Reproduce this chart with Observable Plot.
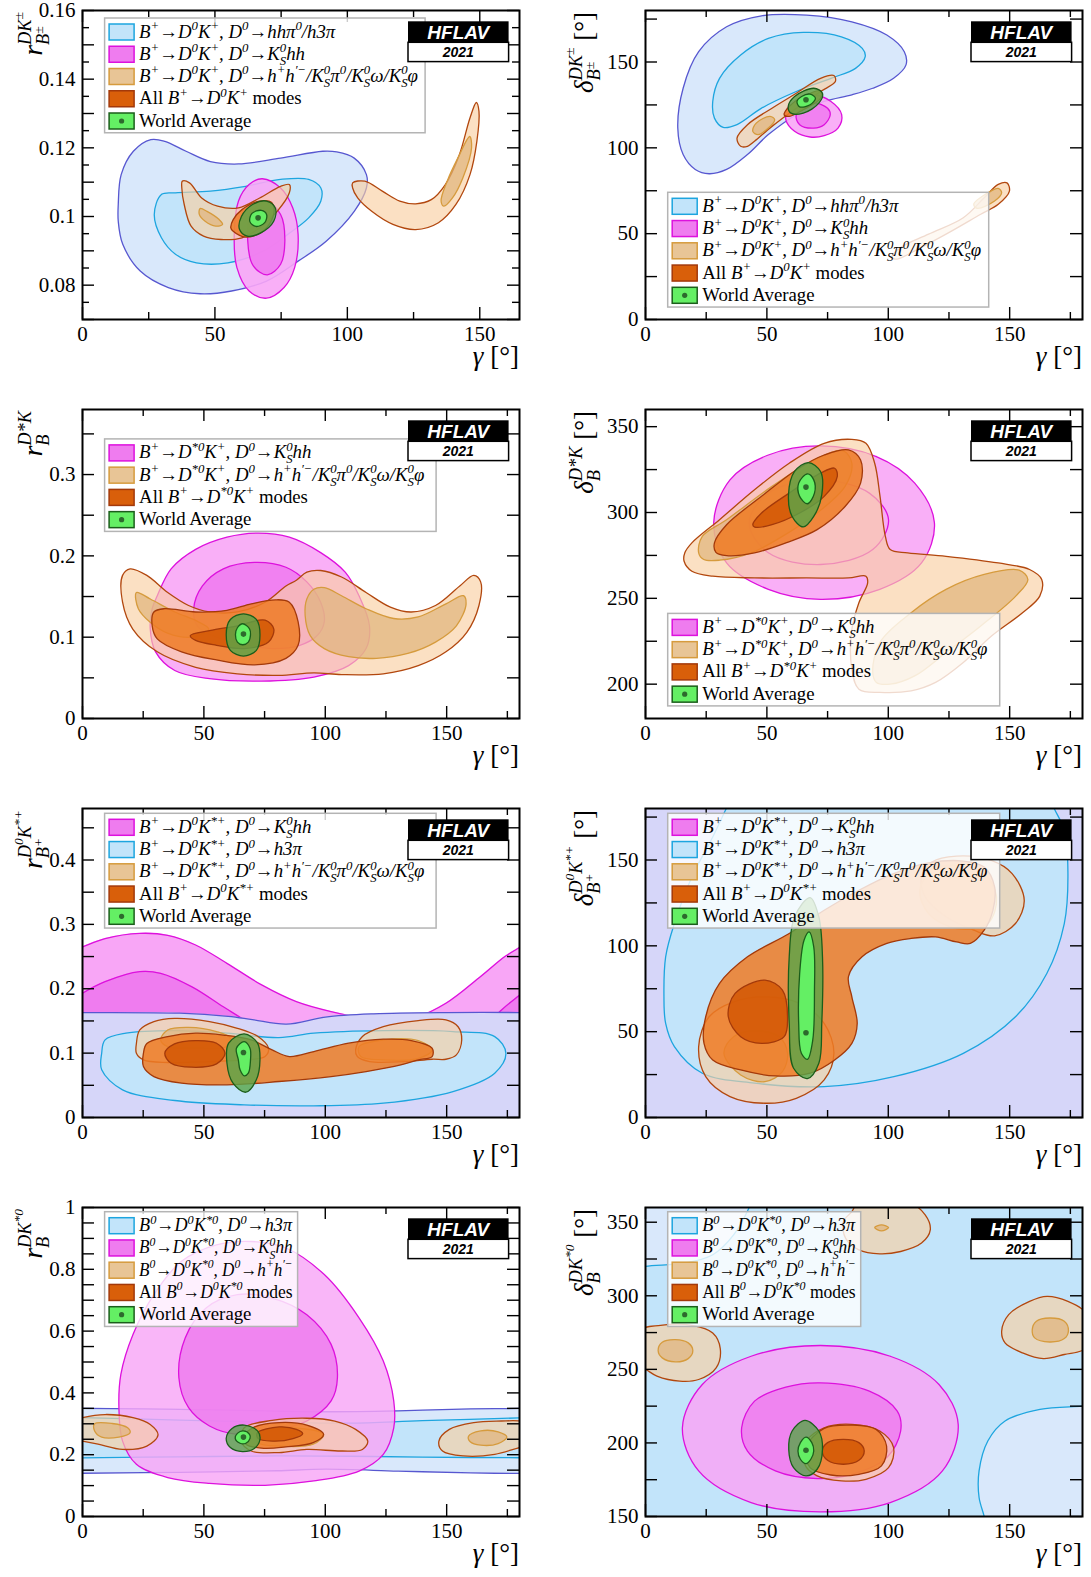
<!DOCTYPE html>
<html><head><meta charset="utf-8">
<script src="https://cdn.jsdelivr.net/npm/d3@7"></script>
<script src="https://cdn.jsdelivr.net/npm/@observablehq/plot@0.6"></script>
<style>
html,body{margin:0;padding:0;background:#fff;}
#root{position:relative;width:1091px;height:1577px;overflow:hidden;background:#fff;}
.panel{position:absolute;width:545px;height:394px;}
.panel svg{max-width:none !important;}
</style>
</head><body><div id="root"></div>
<script>
// ---------------- tick labels / ticks ----------------
const xLabels = [0, 50, 100, 150];
const xMinorP1 = [25, 75, 125];
const xMinor = [25, 75, 125, 175];
const p1YLabels = [0.08, 0.1, 0.12, 0.14, 0.16];
const p1YTicks = [0.07, 0.08, 0.09, 0.1, 0.11, 0.12, 0.13, 0.14, 0.15, 0.16];
const p1YMinor = [0.075, 0.085, 0.095, 0.105, 0.115, 0.125, 0.135, 0.145, 0.155];
const degLabels = [0, 50, 100, 150];
const degTicks = [0, 25, 50, 75, 100, 125, 150, 175];
const p3YLabels = [0, 0.1, 0.2, 0.3];
const p3YTicks = [0, 0.05, 0.1, 0.15, 0.2, 0.25, 0.3, 0.35];
const p4YLabels = [200, 250, 300, 350];
const p4YTicks = [200, 225, 250, 275, 300, 325, 350];
const p5YLabels = [0, 0.1, 0.2, 0.3, 0.4];
const p5YTicks = [0, 0.05, 0.1, 0.15, 0.2, 0.25, 0.3, 0.35, 0.4, 0.45];
const p7YLabels = [0, 0.2, 0.4, 0.6, 0.8, 1];
const p7YTicks = [0, 0.05, 0.1, 0.15, 0.2, 0.25, 0.3, 0.35, 0.4, 0.45, 0.5, 0.55, 0.6, 0.65, 0.7, 0.75, 0.8, 0.85, 0.9, 0.95, 1];
const p8YLabels = [150, 200, 250, 300, 350];
const p8YTicks = [150, 175, 200, 225, 250, 275, 300, 325, 350];

// ---------------- Panel 1: r_B(DK±) vs gamma ----------------
const p1BlueOuter = [[13.5,0.1035],[14.6,0.1122],[19.2,0.119],[25.8,0.1224],[31.1,0.1219],[39.1,0.119],[48.3,0.116],[58.9,0.1153],[74.8,0.117],[90.7,0.119],[96,0.1188],[102.6,0.117],[107.2,0.1122],[107.2,0.1083],[102.6,0.1015],[92,0.0928],[81.4,0.087],[69.5,0.0812],[56.3,0.0783],[44.4,0.0775],[32.4,0.0793],[21.8,0.0841],[15.2,0.0919],[13.5,0.0986]];
const p1BlueInner = [[27.1,0.1006],[29.8,0.1064],[35.1,0.1069],[48.3,0.1074],[61.6,0.1088],[74.8,0.1108],[85.4,0.1108],[90,0.1083],[90,0.1045],[85.4,0.0996],[77.5,0.0948],[68.2,0.0899],[54.9,0.0865],[43,0.0865],[35.1,0.089],[29.8,0.0938]];
const p1MagOuter = [[67.9,0.111],[74.8,0.1083],[79.4,0.1025],[81.4,0.0948],[80.1,0.0851],[76.1,0.0793],[69.5,0.0762],[62.9,0.0783],[58.3,0.0851],[57.3,0.0948],[58.9,0.1045],[62.9,0.1093]];
const p1MagInner = [[69.2,0.1045],[74.8,0.1006],[76.4,0.0928],[74.8,0.0861],[69.8,0.083],[64.5,0.0856],[62.4,0.0928],[63.6,0.1006]];
const p1TanOuterL = [[37.7,0.1103],[40.4,0.1098],[45,0.1054],[51,0.103],[58.9,0.1025],[66.9,0.1054],[74.8,0.1088],[78.1,0.1093],[78.1,0.1069],[73.5,0.1015],[66.9,0.0967],[60.2,0.0938],[52.3,0.0933],[45.7,0.0943],[41,0.0972],[38.4,0.1035],[37.5,0.1083]];
const p1TanInnerL = [[44.4,0.1023],[47,0.1015],[51.6,0.0991],[52.9,0.0977],[50.3,0.0972],[46.3,0.0986],[44.1,0.1006]];
const p1TanOuterR = [[102,0.1098],[106.6,0.1103],[113.2,0.1074],[119.8,0.1045],[125.8,0.1037],[131.7,0.1049],[137,0.1093],[142.3,0.118],[146.3,0.1287],[148.7,0.1332],[149.7,0.1306],[148.9,0.1219],[146.3,0.1122],[141,0.1035],[134.4,0.0982],[125.8,0.0962],[117.2,0.0977],[109.2,0.1015],[103.9,0.1054],[102,0.1083]];
const p1TanInnerR = [[146.2,0.1233],[146.9,0.12],[143.6,0.1112],[139.7,0.1054],[136.4,0.103],[135.4,0.1045],[137.7,0.1103],[141.7,0.117]];
const p1AllOuter = [[56.9,0.0991],[60.2,0.102],[66.9,0.1045],[71.5,0.104],[72.2,0.1006],[68.2,0.0957],[61.6,0.094],[56.9,0.0957],[56,0.0967]];
const p1WAOuter = [[69.5,0.1045],[72.8,0.1025],[72.2,0.0986],[67.5,0.0953],[62.2,0.0943],[59.3,0.0962],[60,0.1],[64.2,0.1035]];
const p1WAInner = [[67.5,0.1018],[69.5,0.1006],[68.8,0.0982],[65.5,0.0971],[63.2,0.0985],[64,0.1009]];
const p1WA = [66.3, 0.0996];

// ---------------- Panel 2: delta_B(DK±) ----------------
const p2BlueOuter = [[13.3,111.5],[15.5,134.7],[21.9,156],[33.4,170.5],[47.8,176.9],[66.4,177.3],[85,173.4],[99.4,165.7],[106.6,156],[107.3,148.3],[102.2,140.5],[93.6,134.7],[85,130.9],[73.6,127],[62.1,119.3],[50.6,107.7],[42,96.1],[33.4,87.4],[26.2,84.9],[20.5,87.4],[15.5,96.1]];
const p2BlueInner = [[27.7,127],[30.5,140.5],[39.2,154.1],[50.6,163.7],[65,167.2],[80.7,164.7],[89.3,157.9],[90.5,153.1],[86.5,146.3],[76.4,140.5],[62.1,132.8],[47.8,123.1],[37.7,113.5],[32,111.9],[28.4,117.3]];
const p2MagOuter = [[68.5,130.9],[76.4,127],[80.8,119.3],[79.3,111.5],[73.6,107.1],[67.8,106.3],[61.4,109.6],[57.8,116.4],[59.2,125.1]];
const p2MagInner = [[69.3,126],[75,123.1],[76.1,119.3],[73.6,113.5],[69.3,111.5],[63.5,113.5],[62.1,119.3]];
const p2TanOuterA = [[39.2,100.9],[37.7,105.7],[42,113.5],[52.1,123.1],[62.1,131.8],[72.1,140.5],[77.6,142.1],[78.2,138.6],[72.1,132.8],[62.1,123.1],[52.1,112.5],[44.9,103.8],[42,100.9]];
const p2TanInnerA = [[51.3,118.3],[53.2,116.4],[50.6,111.5],[46.3,107.7],[44.2,109.6],[45.6,114.4]];
const p2TanOuterB = [[101.5,36.1],[105.1,41.9],[116.6,49.7],[130.9,59.3],[139.5,70.9],[145.3,78.7],[148.9,79.6],[149.9,74.8],[145.3,67.1],[138.1,61.3],[123.8,49.7],[110.9,40],[103.7,35.2]];
const p2TanInnerB = [[135.2,67.1],[141,73.8],[145.3,76.4],[146.7,73.8],[143.8,69],[136.6,64.8]];
const p2AllOuter = [[57.1,119.3],[59.2,124.1],[65,129.9],[72.1,133.2],[72.1,128.9],[65,122.2],[59.2,118.3]];
const p2WAOuter = [[69.3,134.7],[72.9,131.8],[71.4,126],[65,120.2],[59.9,120.2],[58.8,124.1],[61.4,129.9]];
const p2WAInner = [[67.8,131.3],[70,128.9],[67.8,125.1],[63.5,123.9],[62.4,127],[64.3,129.9]];
const p2WA = [66.1, 128];

// ---------------- Panel 3: r_B(D*K) ----------------
const p3MagOuter = [[30.8,0.151],[36.5,0.184],[46.6,0.208],[59.5,0.223],[72.3,0.228],[85.2,0.223],[98.1,0.204],[108.2,0.18],[113.9,0.151],[118.2,0.114],[116.8,0.086],[109.6,0.065],[95.3,0.051],[73.8,0.046],[52.3,0.049],[38,0.059],[30.1,0.082],[27.9,0.11],[28.7,0.135]];
const p3MagInner = [[45.8,0.135],[49.4,0.163],[58,0.184],[70.9,0.192],[83.8,0.186],[92.4,0.168],[98.1,0.143],[99.6,0.119],[96.7,0.102],[89.5,0.09],[78.1,0.086],[65.2,0.092],[53.7,0.102],[47.3,0.114]];
const p3TanOuter = [[16.5,0.176],[19.6,0.184],[26.5,0.176],[35.1,0.155],[43.7,0.139],[52.3,0.131],[63.8,0.131],[75.2,0.143],[83.8,0.163],[88.1,0.17],[92.4,0.18],[98.1,0.182],[106.7,0.174],[116.8,0.155],[126.8,0.137],[135.4,0.131],[145.4,0.139],[155.4,0.163],[161.2,0.176],[164,0.168],[163.3,0.139],[158.3,0.106],[149.7,0.082],[138.3,0.065],[123.9,0.055],[106.7,0.054],[95.3,0.056],[80.9,0.053],[63.8,0.055],[46.6,0.063],[30.8,0.082],[20.7,0.11],[16.5,0.143]];
const p3TanInnerL = [[22.2,0.155],[27.9,0.147],[38,0.131],[47,0.12],[52,0.11],[45,0.1],[35,0.105],[28,0.118],[23,0.135]];
const p3TanInnerR = [[92.4,0.147],[95.3,0.159],[99.6,0.161],[106.7,0.151],[116.8,0.135],[128.2,0.123],[138.3,0.125],[149.7,0.141],[156.9,0.151],[158,0.141],[154,0.114],[145.4,0.094],[134,0.08],[121.1,0.074],[109.6,0.076],[99.6,0.086],[93.8,0.102],[91.7,0.127]];
const p3AllOuter = [[29.4,0.131],[33.7,0.135],[46.6,0.131],[59.5,0.133],[69.5,0.141],[79.5,0.146],[85.2,0.143],[88.8,0.119],[88.8,0.09],[83.8,0.074],[70.9,0.066],[55.2,0.072],[40.8,0.082],[30.8,0.098],[28.7,0.114]];
const p3AllInner = [[44.4,0.102],[52.3,0.108],[63.8,0.114],[75.2,0.121],[78.8,0.11],[76.6,0.094],[66.6,0.086],[55.2,0.09],[46.6,0.096]];
const p3WAOuter = [[66.3,0.1287],[71.6,0.1218],[73.1,0.103],[71.6,0.0838],[66.3,0.0768],[60.9,0.0838],[59.2,0.103],[60.9,0.1218]];
const p3WAInner = [[66,0.1165],[68.8,0.1103],[69.2,0.103],[68.3,0.094],[66,0.0907],[63.8,0.094],[63,0.103],[63.8,0.1116]];
const p3WA = [66.3, 0.1038];

// ---------------- Panel 4: delta_B(D*K) ----------------
const p4MagOuter = [[72.1,338.8],[95.1,332.6],[110.9,317.1],[119,294.1],[113.7,270.6],[96.5,255.2],[72.1,249.4],[50.6,255.2],[33.4,270.6],[28.1,294.1],[34.8,319],[50.6,333.5]];
const p4MagInner = [[71.4,319],[92.2,311.3],[100.1,295.8],[93.6,278.4],[72.1,269.7],[50.6,276.5],[42.7,293.9],[50.6,311.3]];
const p4TanOuter = [[16.2,276.5],[19.1,282.3],[30.5,295.8],[44.9,313.2],[59.2,328.7],[73.6,340.3],[85,342.6],[90.8,340.3],[94.4,328.7],[96.6,309.4],[98.8,286.1],[100.8,278.4],[108,276.5],[123.8,274.5],[145.3,270.6],[158.2,266.8],[163.2,261],[162.4,251.3],[155.3,241.6],[142.4,227.9],[130.9,212.6],[119.5,201],[109.4,196.1],[96.5,195.2],[87.9,197.1],[85,208.7],[85,231.9],[87.9,247.4],[91.5,259],[90.8,262.9],[83.6,261.9],[66.4,261.9],[44.9,261.9],[27.7,262.9],[19.1,265.8],[15.9,271.6]];
const p4TanInnerL = [[21.9,276.5],[23.4,286.1],[33.4,295.8],[52.1,315.2],[70.7,331.6],[81.5,335.9],[85,328.7],[82.2,315.2],[70.7,299.7],[56.4,286.1],[43.5,276.5],[30.5,272.2],[24,272.6]];
const p4TanInnerR = [[93.6,206.8],[96.5,224.2],[109.4,241.6],[123.8,255.2],[139.5,263.9],[153.9,266.4],[157.5,261],[152.5,251.3],[138.1,233.9],[123.8,218.4],[110.9,204.8],[100.8,200],[95.1,201]];
const p4AllOuter = [[28.4,282.3],[33.4,292.9],[47.8,309.4],[62.1,324.8],[73.6,333.5],[83.6,336.5],[88.6,330.6],[88.6,317.1],[82.2,303.5],[70.7,290],[57.8,282.3],[44.9,276.5],[33.4,274.9],[29,276.8]];
const p4AllInner = [[44.2,292.9],[47.8,299.7],[59.2,311.3],[72.1,322.9],[77.9,325.8],[79,321],[73.6,309.4],[63.5,299.7],[52.1,292.9],[45,291.5]];
const p4WAOuter = [[67.1,329.1],[72.1,323.9],[72.6,310.3],[69.3,297.7],[65,291.6],[60.4,297.7],[58.9,310.3],[61.4,323.9]];
const p4WAInner = [[66.7,322.5],[69.3,319],[69.6,311.3],[66.7,305.1],[63.5,309.4],[63.1,317.1]];
const p4WA = [66.1, 314.8];

// ---------------- Panel 5: r_B(D0K*+) ----------------
const p5MagOuterTop = [[-5,0.258],[0,0.265],[9.3,0.278],[23.6,0.286],[35.1,0.283],[46.6,0.268],[59.5,0.2395],[73.8,0.206],[88.1,0.18],[102.4,0.1645],[116.8,0.154],[128.2,0.1516],[138.3,0.157],[149.7,0.1774],[164,0.219],[174,0.25],[180,0.264],[185,0.275]];
const p5MagInnerL = [[-5,0.18],[0,0.193],[9.3,0.211],[23.6,0.2266],[32.2,0.224],[45.1,0.203],[58,0.172],[66.6,0.1516],[75,0.13],[85,0.1],[92,0.05],[95,0]];
const p5MagInnerR = [[155,0],[160,0.09],[166,0.14],[172.6,0.167],[180,0.19],[185,0.205]];
const p5BlueOuterTop = [[-5,0.163],[0,0.163],[40,0.162],[60,0.157],[70,0.152],[84,0.145],[100,0.156],[120,0.161],[150,0.163],[185,0.163]];
const p5BlueInner = [[7.9,0.0998],[9.3,0.1205],[17.9,0.131],[38,0.135],[59.5,0.131],[80.9,0.124],[95.3,0.131],[123.9,0.135],[152.6,0.1335],[169.8,0.1257],[174.4,0.0998],[169.8,0.0688],[152.6,0.0403],[123.9,0.0222],[95.3,0.0181],[66.6,0.0197],[38,0.0264],[16.5,0.0429],[7.9,0.074]];
const p5TanOuterL = [[22.2,0.115],[23.6,0.136],[29.4,0.149],[38,0.154],[52.3,0.149],[63.8,0.1386],[72.3,0.1257],[76.6,0.1076],[75.2,0.0947],[66.6,0.0895],[52.3,0.0869],[35.1,0.0854],[25.1,0.0895],[22.2,0.0998]];
const p5TanInnerL = [[32.2,0.1205],[35.1,0.136],[43.7,0.14],[55.2,0.1335],[60.9,0.123],[59.1,0.11],[46.6,0.1076],[35.1,0.11]];
const p5TanOuterR = [[112.5,0.105],[115.3,0.1257],[123.9,0.141],[138.3,0.1505],[149.7,0.1516],[154.7,0.141],[156.2,0.1205],[154,0.0973],[149.7,0.0905],[144,0.0905],[132.5,0.0869],[118.2,0.0869],[113.2,0.0947]];
const p5TanInnerR = [[113.9,0.11],[123.9,0.1205],[138.3,0.1195],[144,0.105],[138.3,0.092],[123.9,0.0895],[114.6,0.0947]];
const p5AllOuter = [[25.1,0.0998],[26.5,0.115],[35.1,0.1257],[46.6,0.131],[58,0.128],[69.5,0.1205],[78.1,0.105],[85.2,0.0947],[95.3,0.1024],[109.6,0.1154],[123.9,0.1216],[135.4,0.1195],[144,0.1076],[144,0.0947],[138.3,0.0895],[131.1,0.0817],[116.8,0.0714],[102.4,0.0636],[80.9,0.0559],[59.5,0.0507],[40.8,0.0533],[29.4,0.0636],[25.1,0.0792]];
const p5AllInner = [[46.6,0.1195],[55.2,0.1154],[58.7,0.0998],[55.2,0.0833],[45.1,0.0781],[36.5,0.0843],[33.9,0.0998],[37.9,0.1143]];
const p5WAOuter = [[66.6,0.1298],[72.1,0.1154],[73.1,0.0895],[71.6,0.0585],[67.3,0.0393],[62,0.0533],[59.5,0.0843],[60.2,0.1154]];
const p5WAInner = [[66.6,0.118],[69,0.1076],[69.2,0.0895],[68.3,0.0688],[66.6,0.0647],[64.9,0.074],[64.2,0.0895],[63.4,0.1076]];
const p5WA = [66.3, 0.1009];

// ---------------- Panel 6: delta_B(D0K*+) ----------------
const p6BlueInner = [[7.6,70.3],[8.3,93.6],[11.9,113],[19.1,140.1],[27.7,163.4],[33.4,180.4],[36,188],[166,188],[168.2,180.4],[172.5,167.2],[174,142.1],[172.5,113],[165.3,83.9],[152.4,58.7],[130.9,37.4],[102.3,23.8],[73.6,18],[44.9,20],[23.4,25.8],[11.9,41.3],[8.3,54.8]];
const p6TanOuterA = [[49.2,70.3],[63.5,66.5],[73.6,54.8],[77.6,37.4],[73.6,21.9],[62.1,11.2],[49.2,8.3],[34.8,12.2],[24.8,23.8],[21.9,41.3],[26.2,58.7],[36.3,67.4]];
const p6TanInnerA = [[44.9,50.6],[55,47.1],[58.5,37.4],[56.4,26.7],[49.2,20.9],[39.2,24.8],[32.3,37.4],[36.3,47.1]];
const p6TanOuterB = [[128.1,152.3],[142.4,149.8],[151,142.1],[156,126.6],[152.4,113],[143.8,105.8],[135.2,109.1],[123.8,116.9],[115.2,128.5],[113.7,140.1],[118,148.8]];
const p6TanInnerB = [[128.1,146.9],[139.5,142.1],[144.6,128.5],[141,113],[128.1,110.1],[116.6,118.8],[113,132.4],[118,144]];
const p6AllOuter = [[24.8,58.7],[30.5,78.1],[42,93.6],[59.2,107.2],[73.6,120.7],[87.9,132.4],[102.2,142.1],[116.6,148.3],[130.9,149.4],[139.5,145.9],[143.8,134.3],[143.1,120.7],[139.5,109.1],[133.8,101.4],[128.1,102.3],[119.5,105.2],[109.4,104.3],[99.4,101.4],[89.2,93.6],[83.6,82],[85,70.3],[87.2,54.8],[85,43.2],[77.9,33.5],[67.8,25.8],[53.5,24.2],[39.2,27.7],[27.7,33.5],[24.1,43.2]];
const p6AllInner = [[49.2,80],[56.4,74.2],[58.5,58.7],[57.1,47.1],[47.8,43.2],[39.2,47.1],[34.1,58.7],[36.9,72.3]];
const p6WAOuter = [[67.8,128.1],[71.4,116.9],[72.9,93.6],[72.6,54.8],[71.4,31.6],[66.7,22.7],[61,28.7],[59.2,54.8],[59.2,93.6],[61.4,116.9]];
const p6WAInner = [[67.4,108.1],[69.3,99.4],[69.6,74.2],[68.9,45.2],[66.7,33.9],[64.2,37.4],[63.1,54.8],[63.5,83.9],[65.3,103.3]];
const p6WA = [66.1, 49.4];

// ---------------- Panel 7: r_B(DK*0) ----------------
const p7BlueOuterBand = [[-5,0.140,0.350],[0,0.140,0.350],[40,0.143,0.347],[80,0.148,0.341],[100,0.153,0.339],[130,0.147,0.342],[160,0.141,0.348],[185,0.139,0.350]];
const p7BlueInnerBand = [[-5,0.190,0.320],[0,0.190,0.320],[40,0.193,0.312],[80,0.196,0.305],[110,0.195,0.302],[140,0.192,0.310],[185,0.190,0.320]];
const p7MagOuter = [[15,0.352],[15.8,0.46],[20.8,0.589],[29.4,0.718],[40.8,0.826],[55.2,0.879],[69.5,0.89],[83.8,0.869],[99.6,0.783],[113.9,0.643],[123.9,0.503],[128.2,0.374],[128.2,0.287],[123.9,0.201],[113.9,0.147],[95.3,0.115],[75.2,0.101],[52.3,0.107],[35.1,0.126],[22.2,0.169],[16.5,0.244]];
const p7MagInner = [[39.7,0.449],[42.3,0.578],[50.9,0.675],[63.8,0.718],[78.1,0.707],[92.4,0.653],[102.4,0.557],[105,0.449],[102.4,0.374],[92.4,0.309],[78.1,0.277],[63.8,0.266],[52.3,0.293],[43.7,0.352]];
const p7TanOuterL = [[-4,0.31],[0,0.32],[9.3,0.33],[20.8,0.32],[27.9,0.298],[31.1,0.264],[26.5,0.228],[16.5,0.217],[6.4,0.234],[0,0.244],[-4,0.25]];
const p7TanInnerL = [[5,0.3],[12.2,0.301],[18.6,0.287],[19.6,0.271],[15,0.257],[7.9,0.257],[5,0.277]];
const p7TanOuterR = [[146.8,0.244],[151.1,0.282],[161.2,0.304],[172.6,0.309],[180,0.309],[184,0.3],[184,0.23],[180,0.223],[169.8,0.201],[156.9,0.196],[148.3,0.212]];
const p7TanInnerR = [[159,0.26],[164,0.277],[171.2,0.274],[174.8,0.257],[171.2,0.236],[164,0.231],[159.7,0.242]];
const p7TanOuterM = [[66.6,0.287],[78.1,0.311],[92.4,0.318],[103.9,0.309],[112.5,0.282],[117.5,0.244],[115.3,0.217],[106.7,0.212],[92.4,0.217],[81,0.207],[69.5,0.212],[65.3,0.244]];
const p7TanInnerM = [[72.3,0.271],[86.5,0.287],[99.3,0.266],[95,0.234],[81,0.228],[72.3,0.239]];
const p7AllOuter = [[66.6,0.26],[70.9,0.29],[81,0.304],[92.4,0.296],[99.3,0.266],[95,0.239],[83.8,0.225],[73.8,0.221],[67.3,0.234]];
const p7AllInner = [[81,0.29],[88.1,0.282],[90.7,0.268],[86.7,0.252],[78.1,0.244],[72.3,0.253],[72,0.271]];
const p7WAOuter = [[66.6,0.296],[72.1,0.277],[73.1,0.25],[70.9,0.221],[65.9,0.21],[60.9,0.223],[59.2,0.253],[61.6,0.285]];
const p7WAInner = [[66.2,0.277],[68.8,0.266],[69,0.253],[67.3,0.237],[64.9,0.237],[62.9,0.253],[63.8,0.269]];
const p7WA = [66.3, 0.257];

// ---------------- Panel 8: delta_B(DK*0) ----------------
const p8BlueInner = [[-5,318],[0,320],[16.2,322.2],[27.7,327.9],[36.3,341.4],[42.7,360],[44,366],[186,366],[186,226],[179.7,225],[162.5,222.8],[148.1,214.9],[141,201.3],[137.4,181],[137.4,162.9],[139.5,150],[140,144],[-5,144]];
const p8MagOuter = [[72,266.2],[100.8,258.9],[120.9,239.7],[128.8,212.6],[122.3,181],[100.8,159.5],[72,153.2],[43.5,159.5],[21.9,181],[15.2,210.3],[23.4,239.7],[43.5,258.9]];
const p8MagInner = [[72.1,240.8],[92.2,235.2],[103.7,221.6],[105.1,208.1],[99.4,190],[85,178.7],[70.7,175.8],[53.5,181],[42,194.5],[39.6,210.3],[44.9,228.4],[57.8,237.9]];
const p8TanOuterT = [[81.5,350.4],[85,357.2],[87.9,364],[108,364],[115.2,355],[117.3,344.8],[113.7,335.8],[105.1,330.1],[96.5,328.5],[87.9,331.2],[82.4,339.2]];
const p8TanInnerT = [[97.2,348.2],[100.1,346.4],[97.2,344.1],[94.4,346.4]];
const p8TanOuterL = [[-3,275.9],[6.2,279.9],[19.1,279.9],[27.7,274.7],[30.8,264.1],[29.1,251],[21.9,243.1],[14.1,242],[4.7,245.4],[0,249.9],[-3,251]];
const p8TanInnerL = [[12.3,270.2],[17.6,268],[19.5,262.8],[17.6,257.3],[12.3,255.1],[6.9,257.8],[5.2,262.8],[6.9,268.4]];
const p8TanOuterR = [[146.7,275.9],[149.6,287.2],[158.2,296.2],[165.4,299.6],[174,296.2],[181,289],[183,276],[181,264],[172.5,260.1],[163.9,257.3],[155.3,261.2],[148.1,268]];
const p8TanInnerR = [[166.5,284.9],[172.5,282.7],[174.2,276.3],[172.5,270.9],[166.5,268.6],[160.3,271.4],[159.3,277],[161,282.7]];
const p8TanOuterM = [[73.6,210.3],[85,212.6],[96.5,208.1],[102.2,196.8],[100.1,183.2],[90.8,175.3],[80.7,174.2],[70.7,177.6],[65.6,185.5],[66.4,201.3]];
const p8AllOuter = [[73.6,209.9],[85,212.1],[95,209.2],[99.3,197.9],[97.2,184.4],[87.9,178.7],[76.4,178.2],[67.8,183.2],[66.1,196.8]];
const p8AllInner = [[81.5,202.4],[87.9,200.2],[90.1,194.5],[87.9,188.2],[81.5,185.5],[75,188.2],[72.8,194.5],[75,200.2]];
const p8WAOuter = [[65.7,215.3],[71.4,208.1],[72.9,195.6],[70.7,182.1],[66.1,177.6],[61,183.2],[59,195.6],[60.4,208.1]];
const p8WAInner = [[66.1,204],[68.5,200.2],[69.3,194.5],[68.1,188.9],[66.1,185.9],[63.8,188.9],[62.8,194.5],[63.8,200.2]];
const p8WA = [66.1, 195];

// ---------------- legends ----------------
const legendDK = [
  ["blue", "B^{+}→D^{0}K^{+}, D^{0}→hhπ^{0}/h3π"],
  ["mag", "B^{+}→D^{0}K^{+}, D^{0}→K^{0}_{S}hh"],
  ["tan", "B^{+}→D^{0}K^{+}, D^{0}→h^{+}h^{′−}/K^{0}_{S}π^{0}/K^{0}_{S}ω/K^{0}_{S}φ"],
  ["all", "~All ~B^{+}→D^{0}K^{+}~ modes~"],
  ["wa", "~World Average~"]
];
const legendDstK = [
  ["mag", "B^{+}→D^{*0}K^{+}, D^{0}→K^{0}_{S}hh"],
  ["tan", "B^{+}→D^{*0}K^{+}, D^{0}→h^{+}h^{′−}/K^{0}_{S}π^{0}/K^{0}_{S}ω/K^{0}_{S}φ"],
  ["all", "~All ~B^{+}→D^{*0}K^{+}~ modes~"],
  ["wa", "~World Average~"]
];
const legendDKst = [
  ["mag", "B^{+}→D^{0}K^{*+}, D^{0}→K^{0}_{S}hh"],
  ["blue", "B^{+}→D^{0}K^{*+}, D^{0}→h3π"],
  ["tan", "B^{+}→D^{0}K^{*+}, D^{0}→h^{+}h^{′−}/K^{0}_{S}π^{0}/K^{0}_{S}ω/K^{0}_{S}φ"],
  ["all", "~All ~B^{+}→D^{0}K^{*+}~ modes~"],
  ["wa", "~World Average~"]
];
const legendDKst0 = [
  ["blue", "B^{0}→D^{0}K^{*0}, D^{0}→h3π"],
  ["mag", "B^{0}→D^{0}K^{*0}, D^{0}→K^{0}_{S}hh"],
  ["tan", "B^{0}→D^{0}K^{*0}, D^{0}→h^{+}h^{′−}"],
  ["all", "~All ~B^{0}→D^{0}K^{*0}~ modes~"],
  ["wa", "~World Average~"]
];

// ---------------- axis titles ----------------
const UP = " [°]";
const titles = [
  [["r","n"],["DK","sup"],["±","sup2"],["B","sub"],["±","sub2"]],
  [["δ","n"],["DK","sup"],["±","sup2"],["B","sub"],["±","sub2"],[UP,"u"]],
  [["r","n"],["D*K","sup"],["B","sub"]],
  [["δ","n"],["D*K","sup"],["B","sub"],[UP,"u"]],
  [["r","n"],["D","sup"],["0","sup2"],["K","sup"],["*+","sup2"],["B","sub"],["+","sub2"]],
  [["δ","n"],["D","sup"],["0","sup2"],["K","sup"],["*+","sup2"],["B","sub"],["+","sub2"],[UP,"u"]],
  [["r","n"],["DK","sup"],["*0","sup2"],["B","sub"]],
  [["δ","n"],["DK","sup"],["*0","sup2"],["B","sub"],[UP,"u"]]
];

// ================= drawing =================
const SERIF = "'Liberation Serif','Times New Roman',serif";
const SANS = "'Liberation Sans',Arial,sans-serif";
const W = 437, H = 309, ML = 82, MT = 10, SVGW = 545, SVGH = 394;
const LEGF = 18.8;
const C = {
  bO: "#d9e8fb", bOs: "#5757d0", bI: "#c2e4fa", bIs: "#1da5df",
  mO: "#f8a6f6", mI: "#ef7cef", ms: "#dd11dd",
  tO: "#f9cfa3", tOs: "#b2470e", tI: "#e0b47a", tIs: "#d69b3d",
  oO: "#ee7b25", oI: "#d45a07", os: "#a3390a",
  gO: "#58a548", gI: "#64ef64", gs: "#1b5e1b", dot: "#2d6a2d",
  lav: "#d6d6f9"
};
const px = d => d[0], py = d => d[1];
function poly(data, fill, stroke, o = {}) {
  return Plot.line(data, {x: px, y: py, curve: "catmull-rom-closed", fill, fillOpacity: o.fo ?? 1,
    stroke, strokeOpacity: o.so ?? 1, strokeWidth: o.sw ?? 1.3, clip: true});
}
const S = {
  blueO: d => poly(d, C.bO, C.bOs),
  blueI: d => poly(d, C.bI, C.bIs),
  magO: (d, fo = 0.9) => poly(d, C.mO, C.ms, {fo}),
  magI: (d, fo = 0.9) => poly(d, C.mI, C.ms, {fo}),
  tanO: d => poly(d, C.tO, C.tOs, {fo: 0.65}),
  tanI: d => poly(d, C.tI, C.tIs, {fo: 0.7}),
  allO: d => poly(d, C.oO, C.os, {fo: 0.85}),
  allI: d => poly(d, C.oI, C.os, {fo: 0.9}),
  waO: d => poly(d, C.gO, C.gs, {fo: 0.8}),
  waI: d => poly(d, C.gI, C.gs),
  wa: p => Plot.dot([p], {x: px, y: py, r: 2.8, fill: C.dot})
};

const panels = [
  {col: 0, row: 0, xd: [0, 165], xm: xMinorP1, yd: [0.07, 0.16], yl: p1YLabels, yt: p1YTicks, ym: p1YMinor,
   marks: [S.blueO(p1BlueOuter), S.blueI(p1BlueInner), S.magO(p1MagOuter), S.magI(p1MagInner),
     S.tanO(p1TanOuterL), S.tanI(p1TanInnerL), S.tanO(p1TanOuterR), S.tanI(p1TanInnerR),
     S.allO(p1AllOuter), S.waO(p1WAOuter), S.waI(p1WAInner), S.wa(p1WA)],
   leg: {x: 22.6, y: 8, w: 320.5, items: legendDK}},
  {col: 1, row: 0, xd: [0, 180], xm: xMinor, yd: [0, 180], yl: degLabels, yt: degTicks,
   marks: [S.blueO(p2BlueOuter), S.blueI(p2BlueInner), S.magO(p2MagOuter), S.magI(p2MagInner),
     S.tanO(p2TanOuterA), S.tanI(p2TanInnerA), S.tanO(p2TanOuterB), S.tanI(p2TanInnerB),
     S.allO(p2AllOuter), S.waO(p2WAOuter), S.waI(p2WAInner), S.wa(p2WA)],
   leg: {x: 22.7, y: 182.3, w: 321, items: legendDK}},
  {col: 0, row: 1, xd: [0, 180], xm: xMinor, yd: [0, 0.38], yl: p3YLabels, yt: p3YTicks,
   marks: [S.magO(p3MagOuter), S.magI(p3MagInner), S.tanO(p3TanOuter), S.tanI(p3TanInnerL), S.tanI(p3TanInnerR),
     S.allO(p3AllOuter), S.allI(p3AllInner), S.waO(p3WAOuter), S.waI(p3WAInner), S.wa(p3WA)],
   leg: {x: 22.6, y: 29.9, w: 331.5, items: legendDstK}},
  {col: 1, row: 1, xd: [0, 180], xm: xMinor, yd: [180, 360], yl: p4YLabels, yt: p4YTicks,
   marks: [S.magO(p4MagOuter), poly(p4MagInner, C.mO, C.ms, {fo: 0.5}), S.tanO(p4TanOuter), S.tanI(p4TanInnerL), S.tanI(p4TanInnerR),
     S.allO(p4AllOuter), S.allI(p4AllInner), S.waO(p4WAOuter), S.waI(p4WAInner), S.wa(p4WA)],
   leg: {x: 22.7, y: 204.4, w: 332, items: legendDstK}},
  {col: 0, row: 2, xd: [0, 180], xm: xMinor, yd: [0, 0.48], yl: p5YLabels, yt: p5YTicks,
   marks: [
     Plot.areaY(p5MagOuterTop, {x: px, y: py, curve: "catmull-rom", fill: C.mO, clip: true}),
     Plot.line(p5MagOuterTop, {x: px, y: py, curve: "catmull-rom", stroke: C.ms, strokeWidth: 1.3, clip: true}),
     Plot.areaY(p5MagInnerL, {x: px, y: py, curve: "catmull-rom", fill: C.mI, clip: true}),
     Plot.line(p5MagInnerL, {x: px, y: py, curve: "catmull-rom", stroke: C.ms, strokeWidth: 1.3, clip: true}),
     Plot.areaY(p5MagInnerR, {x: px, y: py, curve: "catmull-rom", fill: C.mI, clip: true}),
     Plot.line(p5MagInnerR, {x: px, y: py, curve: "catmull-rom", stroke: C.ms, strokeWidth: 1.3, clip: true}),
     Plot.areaY(p5BlueOuterTop, {x: px, y: py, curve: "catmull-rom", fill: C.lav, clip: true}),
     Plot.line(p5BlueOuterTop, {x: px, y: py, curve: "catmull-rom", stroke: C.bOs, strokeWidth: 1.3, clip: true}),
     S.blueI(p5BlueInner),
     S.tanO(p5TanOuterL), S.tanI(p5TanInnerL), S.tanO(p5TanOuterR), S.tanI(p5TanInnerR),
     S.allO(p5AllOuter), S.allI(p5AllInner), S.waO(p5WAOuter), S.waI(p5WAInner), S.wa(p5WA)],
   leg: {x: 22.6, y: 5.3, w: 331.5, items: legendDKst}},
  {col: 1, row: 2, xd: [0, 180], xm: xMinor, yd: [0, 180], yl: degLabels, yt: degTicks, bg: C.lav,
   marks: [S.blueI(p6BlueInner), S.tanO(p6TanOuterA), S.tanI(p6TanInnerA), S.tanO(p6TanOuterB), S.tanI(p6TanInnerB),
     S.allO(p6AllOuter), S.allI(p6AllInner), S.waO(p6WAOuter), S.waI(p6WAInner), S.wa(p6WA)],
   leg: {x: 22.7, y: 5.3, w: 332, items: legendDKst}},
  {col: 0, row: 3, xd: [0, 180], xm: xMinor, yd: [0, 1], yl: p7YLabels, yt: p7YTicks,
   marks: [
     Plot.areaY(p7BlueOuterBand, {x: px, y1: d => d[1], y2: d => d[2], curve: "catmull-rom", fill: C.bO, clip: true}),
     Plot.areaY(p7BlueInnerBand, {x: px, y1: d => d[1], y2: d => d[2], curve: "catmull-rom", fill: C.bI, clip: true}),
     Plot.line(p7BlueOuterBand, {x: px, y: d => d[1], curve: "catmull-rom", stroke: C.bOs, strokeWidth: 1.3, clip: true}),
     Plot.line(p7BlueOuterBand, {x: px, y: d => d[2], curve: "catmull-rom", stroke: C.bOs, strokeWidth: 1.3, clip: true}),
     Plot.line(p7BlueInnerBand, {x: px, y: d => d[1], curve: "catmull-rom", stroke: C.bIs, strokeWidth: 1.3, clip: true}),
     Plot.line(p7BlueInnerBand, {x: px, y: d => d[2], curve: "catmull-rom", stroke: C.bIs, strokeWidth: 1.3, clip: true}),
     S.magO(p7MagOuter, 0.82), S.magI(p7MagInner, 0.85),
     S.tanO(p7TanOuterL), S.tanI(p7TanInnerL), S.tanO(p7TanOuterR), S.tanI(p7TanInnerR), S.tanO(p7TanOuterM), S.tanI(p7TanInnerM),
     S.allO(p7AllOuter), S.allI(p7AllInner), S.waO(p7WAOuter), S.waI(p7WAInner), S.wa(p7WA)],
   leg: {x: 22.6, y: 4.7, w: 193, items: legendDKst0}},
  {col: 1, row: 3, xd: [0, 180], xm: xMinor, yd: [150, 360], yl: p8YLabels, yt: p8YTicks, bg: C.bO,
   marks: [S.blueI(p8BlueInner), S.magO(p8MagOuter, 0.85), S.magI(p8MagInner, 0.85),
     S.tanO(p8TanOuterT), S.tanI(p8TanInnerT), S.tanO(p8TanOuterL), S.tanI(p8TanInnerL), S.tanO(p8TanOuterR), S.tanI(p8TanInnerR),
     S.tanO(p8TanOuterM), S.allO(p8AllOuter), S.allI(p8AllInner), S.waO(p8WAOuter), S.waI(p8WAInner), S.wa(p8WA)],
   leg: {x: 22.7, y: 4.7, w: 193, items: legendDKst0}}
];

// ---------- rich text (sub/superscripts) ----------
const TYPES = {n: [1, 0], u: [1, 0], sup: [0.68, -0.4], sup2: [0.5, -0.72], sub: [0.68, 0.27], sub2: [0.5, 0.03]};
function renderTokens(textSel, tokens, F) {
  let cur = 0, supW = 0, subW = 0, mode = "n";
  for (const tk of tokens) {
    const fam = tk.type.startsWith("sup") ? "sup" : tk.type.startsWith("sub") ? "sub" : "n";
    let dx = 0;
    if (fam === "sup" && mode !== "sup") supW = 0;
    if (fam === "sub" && mode === "sup") { dx = -supW; subW = 0; }
    else if (fam === "sub" && mode !== "sub") { subW = 0; supW = 0; }
    if (fam !== "sub" && mode === "sub") dx = Math.max(0, supW - subW);
    const [k, off] = TYPES[tk.type];
    const ts = textSel.append("tspan").text(tk.t)
      .attr("font-size", F * k)
      .attr("dy", (off - cur) * F)
      .attr("font-style", tk.up || tk.type === "u" ? "normal" : "italic");
    if (dx) ts.attr("dx", dx);
    cur = off;
    const w = ts.node().getComputedTextLength();
    if (fam === "sup") supW += w; else if (fam === "sub") subW += w;
    mode = fam;
  }
}
function parseRich(str) {
  const out = []; let i = 0, up = false, buf = "";
  const flush = () => { if (buf) { out.push({t: buf, type: "n", up}); buf = ""; } };
  while (i < str.length) {
    const c = str[i];
    if (c === "~") { flush(); up = !up; i++; continue; }
    if ((c === "^" || c === "_") && str[i + 1] === "{") {
      flush();
      const j = str.indexOf("}", i);
      out.push({t: str.slice(i + 2, j), type: c === "^" ? "sup" : "sub", up});
      i = j + 1; continue;
    }
    buf += c; i++;
  }
  flush();
  return out;
}

const SW = {
  blue: {fill: C.bI, stroke: C.bIs}, mag: {fill: C.mI, stroke: C.ms},
  tan: {fill: "#e8c596", stroke: C.tIs}, all: {fill: "#d95f0a", stroke: C.os},
  wa: {fill: C.gI, stroke: C.gs}
};

const root = document.getElementById("root");
panels.forEach((cfg, idx) => {
  const marks = [];
  if (cfg.bg) marks.push(Plot.frame({fill: cfg.bg, stroke: "none"}));
  marks.push(...cfg.marks);
  const tk = {stroke: "black", strokeWidth: 1.4};
  marks.push(Plot.tickX(xLabels, {x: d => d, insetTop: H - 12, ...tk}));
  marks.push(Plot.tickX(xLabels, {x: d => d, insetBottom: H - 12, ...tk}));
  marks.push(Plot.tickX(cfg.xm, {x: d => d, insetTop: H - 7, ...tk}));
  marks.push(Plot.tickX(cfg.xm, {x: d => d, insetBottom: H - 7, ...tk}));
  marks.push(Plot.tickY(cfg.yt, {y: d => d, insetRight: W - 12, ...tk}));
  marks.push(Plot.tickY(cfg.yt, {y: d => d, insetLeft: W - 12, ...tk}));
  if (cfg.ym) {
    marks.push(Plot.tickY(cfg.ym, {y: d => d, insetRight: W - 7, ...tk}));
    marks.push(Plot.tickY(cfg.ym, {y: d => d, insetLeft: W - 7, ...tk}));
  }
  marks.push(Plot.frame({stroke: "black", strokeWidth: 2}));

  const svg = Plot.plot({
    width: SVGW, height: SVGH,
    marginLeft: ML, marginTop: MT, marginRight: SVGW - ML - W, marginBottom: SVGH - MT - H,
    x: {domain: cfg.xd, ticks: xLabels, tickFormat: d => String(d), tickSize: 0, tickPadding: 7, label: null},
    y: {domain: cfg.yd, ticks: cfg.yl, tickFormat: d => String(d), tickSize: 0, tickPadding: 7, label: null},
    style: {fontFamily: SERIF, fontSize: "21px", background: "transparent", color: "black", overflow: "visible", maxWidth: "none"},
    marks
  });
  svg.style.maxWidth = "none";
  svg.setAttribute("width", SVGW);
  svg.setAttribute("height", SVGH);
  const div = document.createElement("div");
  div.className = "panel";
  div.style.left = (cfg.col * 563) + "px";
  div.style.top = (cfg.row * 399.1) + "px";
  div.appendChild(svg);
  root.appendChild(div);

  const g = d3.select(svg).append("g").attr("font-family", SERIF).attr("text-anchor", "start");

  // legend
  const L = cfg.leg, n = L.items.length;
  const lx = ML + L.x, ly = MT + L.y, lh = n * 22.25 + 3.5;
  g.append("rect").attr("x", lx).attr("y", ly).attr("width", L.w).attr("height", lh)
    .attr("fill", "white").attr("fill-opacity", 0.8).attr("stroke", "#b4b4b4").attr("stroke-width", 1.5);
  L.items.forEach(([kind, str], i) => {
    const sy = ly + 6 + i * 22.25;
    const sw = SW[kind];
    g.append("rect").attr("x", lx + 4.5).attr("y", sy).attr("width", 25).attr("height", 16)
      .attr("fill", sw.fill).attr("stroke", sw.stroke).attr("stroke-width", 1.5);
    if (kind === "wa") g.append("circle").attr("cx", lx + 17).attr("cy", sy + 8).attr("r", 2.6).attr("fill", C.dot);
    const tx = lx + 34.5;
    const t = g.append("text").attr("x", tx).attr("y", sy + 13.5).attr("fill", "black")
      .attr("text-anchor", "start").style("white-space", "pre");
    renderTokens(t, parseRich(str), LEGF);
    // keep the entry inside its box
    const avail = lx + L.w - 5 - tx;
    const bw = t.node().getBBox().width;
    if (bw > avail) {
      const s = avail / bw;
      t.attr("transform", `translate(${tx},0) scale(${s},1) translate(${-tx},0)`);
    }
  });

  // HFLAV logo
  const hx = ML + 326, hy = MT + 11.3, hw = 100.6;
  g.append("rect").attr("x", hx).attr("y", hy).attr("width", hw).attr("height", 21).attr("fill", "black");
  g.append("rect").attr("x", hx).attr("y", hy + 21).attr("width", hw).attr("height", 19.3)
    .attr("fill", "white").attr("stroke", "black").attr("stroke-width", 1.5);
  g.append("text").attr("x", hx + hw / 2).attr("y", hy + 17.5).attr("text-anchor", "middle")
    .attr("font-family", SANS).attr("font-weight", "bold").attr("font-style", "italic").attr("font-size", 19)
    .attr("fill", "white").text("HFLAV");
  g.append("text").attr("x", hx + hw / 2).attr("y", hy + 36).attr("text-anchor", "middle")
    .attr("font-family", SANS).attr("font-weight", "bold").attr("font-style", "italic").attr("font-size", 14)
    .attr("fill", "black").text("2021");

  // x title
  const xt = g.append("text").attr("x", ML + W).attr("y", MT + H + 46).attr("text-anchor", "end")
    .attr("fill", "black").style("white-space", "pre");
  renderTokens(xt, [{t: "γ", type: "n"}, {t: " [°]", type: "u"}], 27);

  // y title (rotated)
  const bx = cfg.col === 0 ? 42 : 30, by = MT + 2;
  const yt = g.append("text").attr("x", bx).attr("y", by).attr("text-anchor", "end")
    .attr("transform", `rotate(-90,${bx},${by})`).attr("fill", "black").style("white-space", "pre");
  renderTokens(yt, titles[idx].map(([t, type]) => ({t, type})), 27);
});
</script>
</body></html>
